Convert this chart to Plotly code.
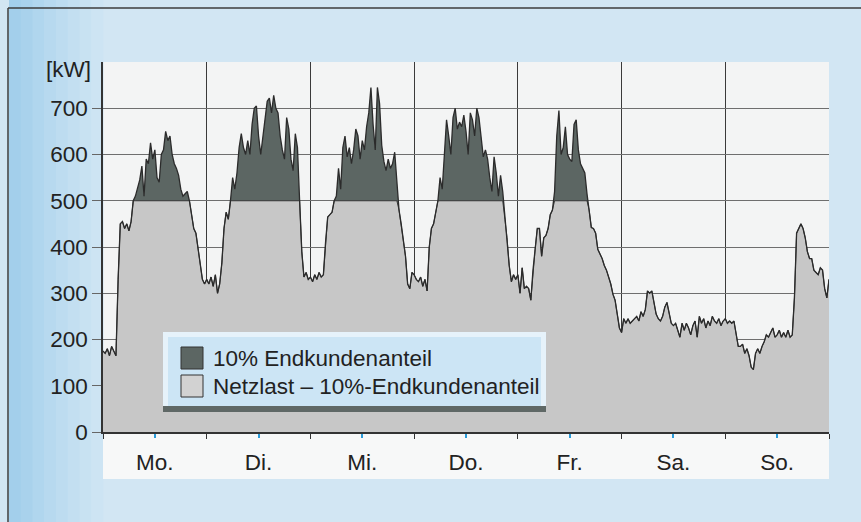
import plotly.graph_objects as go

# ---------------- data (half-hourly load, kW) ----------------
days = ["Mo.", "Di.", "Mi.", "Do.", "Fr.", "Sa.", "So."]
cap_kw = 500  # Netzlast above this level = 10% Endkundenanteil

mo = [175, 170, 180, 165, 185, 175, 165, 330, 450, 455, 440, 450, 435, 455, 500, 510,
      530, 545, 575, 510, 590, 580, 625, 590, 610, 550, 540, 600, 610, 650, 630, 640,
      600, 580, 570, 555, 525, 510, 515, 520, 500, 470, 440, 430, 400, 370, 330, 320]
di = [330, 320, 335, 315, 340, 300, 320, 365, 440, 475, 460, 500, 550, 525, 560, 615,
      645, 615, 600, 630, 600, 665, 700, 705, 640, 600, 635, 675, 715, 722, 690, 728,
      700, 690, 640, 610, 590, 680, 655, 590, 565, 645, 615, 500, 390, 335, 345, 330]
mi = [335, 325, 340, 330, 345, 335, 340, 410, 465, 470, 475, 500, 510, 570, 525, 615,
      640, 595, 615, 580, 610, 655, 640, 590, 630, 610, 660, 690, 745, 665, 610, 745,
      710, 620, 585, 565, 590, 570, 580, 605, 540, 480, 450, 410, 380, 320, 310, 345]
do = [340, 330, 325, 335, 315, 330, 305, 400, 440, 450, 478, 500, 550, 525, 600, 675,
      640, 600, 680, 700, 655, 670, 660, 685, 650, 600, 690, 675, 640, 700, 680, 630,
      595, 610, 590, 550, 520, 595, 560, 510, 555, 520, 460, 420, 360, 325, 340, 330]
fr = [340, 300, 355, 310, 315, 310, 285, 350, 395, 440, 440, 380, 420, 425, 440, 470,
      480, 520, 640, 695, 600, 615, 660, 600, 590, 585, 665, 675, 610, 580, 570, 560,
      515, 480, 442, 440, 430, 395, 385, 375, 360, 350, 335, 320, 298, 285, 255, 225]
sa = [215, 245, 235, 245, 235, 240, 245, 250, 240, 260, 250, 265, 305, 300, 305, 280,
      255, 245, 240, 250, 270, 280, 255, 235, 230, 235, 220, 205, 235, 220, 235, 225,
      210, 230, 240, 205, 250, 235, 245, 225, 240, 230, 250, 240, 235, 245, 230, 240]
so = [245, 235, 240, 235, 240, 210, 185, 185, 190, 170, 180, 165, 140, 135, 170, 180,
      170, 185, 195, 210, 205, 215, 225, 205, 210, 220, 205, 215, 205, 220, 205, 210,
      290, 430, 440, 450, 440, 420, 390, 375, 375, 350, 345, 340, 355, 350, 310, 290, 330]

netzlast = mo + di + mi + do + fr + sa + so
steps_per_day = 48
t_days = [i / steps_per_day for i in range(len(netzlast))]
lower = [min(v, cap_kw) for v in netzlast]

y_ticks = [0, 100, 200, 300, 400, 500, 600, 700]
legend_labels = ["10% Endkundenanteil", "Netzlast \u2013 10%-Endkundenanteil"]

# ---------------- layout helpers ----------------
W, H = 861, 522
L, R, T, B = 103, 32, 62, 90
PW, PH = W - L - R, H - T - B


def px(x):
    return (x - L) / PW


def py(y):
    return (H - B - y) / PH


FONT = "Liberation Sans, Arial, Helvetica, sans-serif"
FS = 22.5
TXT = "#222222"
DARK = "#5c6663"
LIGHT = "#c7c7c7"
LINE = "#2b2b2b"

fig = go.Figure()
fig.add_trace(go.Scatter(x=t_days, y=lower, mode="lines", fill="tozeroy",
                         fillcolor=LIGHT, line=dict(color="#3a3a3a", width=1),
                         name=legend_labels[1], hoverinfo="skip"))
fig.add_trace(go.Scatter(x=t_days, y=netzlast, mode="lines", fill="tonexty",
                         fillcolor=DARK, line=dict(color=LINE, width=1.3),
                         name=legend_labels[0]))

shapes = []
# left-margin blue gradient strips
grad = ["#a3cfeb", "#a9d2ec", "#b0d6ee", "#b7d9ef", "#bddcf0", "#c3dff1", "#c8e2f2", "#cde4f3"]
sw = (L - 9) / len(grad)
for i, c in enumerate(grad):
    shapes.append(dict(type="rect", xref="paper", yref="paper", layer="below",
                       x0=px(9 + i * sw), x1=px(9 + (i + 1) * sw + 0.5), y0=py(H), y1=py(0),
                       fillcolor=c, line=dict(width=0)))
# frame lines
shapes.append(dict(type="line", xref="paper", yref="paper", x0=px(8), x1=px(8),
                   y0=py(H), y1=py(8), line=dict(color="#3c3c3c", width=1.5)))
shapes.append(dict(type="line", xref="paper", yref="paper", x0=px(8), x1=px(W),
                   y0=py(8), y1=py(8), line=dict(color="#3c3c3c", width=1.5)))
# white band for day labels
shapes.append(dict(type="rect", xref="paper", yref="paper", layer="below",
                   x0=px(L), x1=px(W - R), y0=py(479), y1=py(H - B),
                   fillcolor="#f7f8f8", line=dict(width=0)))
# legend box (bevelled)
shapes += [
    dict(type="rect", xref="paper", yref="paper", x0=px(163), x1=px(546), y0=py(412), y1=py(332),
         fillcolor="#e6f2fa", line=dict(width=0)),
    dict(type="rect", xref="paper", yref="paper", x0=px(163), x1=px(546), y0=py(412), y1=py(406),
         fillcolor="#5f6866", line=dict(width=0)),
    dict(type="rect", xref="paper", yref="paper", x0=px(168), x1=px(541), y0=py(406), y1=py(337),
         fillcolor="#cce5f5", line=dict(width=0)),
    dict(type="rect", xref="paper", yref="paper", x0=px(181), x1=px(203), y0=py(369), y1=py(347),
         fillcolor=DARK, line=dict(color="#333", width=1)),
    dict(type="rect", xref="paper", yref="paper", x0=px(181), x1=px(203), y0=py(397), y1=py(375),
         fillcolor="#d2d2d2", line=dict(color="#333", width=1)),
]

annotations = [
    dict(text="[kW]", xref="paper", yref="paper", x=px(93), y=py(69), xanchor="right",
         yanchor="middle", showarrow=False, font=dict(family=FONT, size=FS, color=TXT)),
    dict(text=legend_labels[0], xref="paper", yref="paper", x=px(211), y=py(358), xanchor="left",
         yanchor="middle", showarrow=False, font=dict(family=FONT, size=FS, color=TXT)),
    dict(text=legend_labels[1], xref="paper", yref="paper", x=px(211), y=py(386), xanchor="left",
         yanchor="middle", showarrow=False, font=dict(family=FONT, size=FS, color=TXT)),
]

fig.update_layout(
    width=W, height=H, margin=dict(l=L, r=R, t=T, b=B, autoexpand=False),
    paper_bgcolor="#d2e6f3", plot_bgcolor="#f3f4f4",
    showlegend=False, shapes=shapes, annotations=annotations,
    font=dict(family=FONT, size=FS, color=TXT),
)
fig.update_xaxes(
    range=[0, 7], tickmode="array", tickvals=[d + 0.5 for d in range(7)], ticktext=days,
    showgrid=False, ticks="outside", ticklen=4, tickwidth=2, tickcolor="#2a9ad8",
    ticklabelstandoff=5, tickfont=dict(family=FONT, size=FS, color=TXT),
    showline=True, linecolor="#333", linewidth=1.5, zeroline=False,
    minor=dict(tickmode="array", tickvals=list(range(8)), showgrid=True, gridcolor="#3a3a3a",
               gridwidth=1, ticks="outside", ticklen=5, tickcolor="#333", tickwidth=1),
)
fig.update_yaxes(
    range=[0, 800], tickmode="array", tickvals=y_ticks, showgrid=True, gridcolor="#6e6e6e",
    gridwidth=1, ticks="outside", ticklen=9, tickcolor="#666", tickwidth=1,
    tickfont=dict(family=FONT, size=FS, color=TXT),
    showline=True, linecolor="#333", linewidth=1.5, zeroline=False,
)

fig.write_html("out.html", config={"displayModeBar": False},
               post_script="document.body.style.margin='0';")
